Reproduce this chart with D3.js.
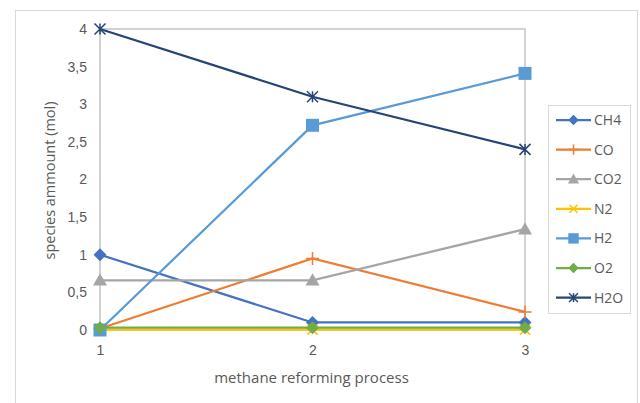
<!DOCTYPE html>
<html>
<head>
<meta charset="utf-8">
<script src="https://cdn.jsdelivr.net/npm/d3@7"></script>
<style>
  html, body { margin: 0; padding: 0; background: #fff; }
  svg { display: block; font-family: "Open Sans", "Liberation Sans", sans-serif; }
</style>
</head>
<body>
<svg id="chart" width="640" height="403"></svg>
<script>
// Process steps along the x axis
const steps = [1, 2, 3];

// Species amounts (mol) at each step
const CH4 = [1.0, 0.1, 0.1];
const CO  = [0.02, 0.95, 0.24];
const CO2 = [0.66, 0.66, 1.34];
const N2  = [0.005, 0.005, 0.005];
const H2  = [0.0, 2.72, 3.41];
const O2  = [0.03, 0.03, 0.03];
const H2O = [4.0, 3.1, 2.4];

const seriesNames = ["CH4", "CO", "CO2", "N2", "H2", "O2", "H2O"];
const yTicks = [0, 0.5, 1, 1.5, 2, 2.5, 3, 3.5, 4];

const seriesValues = { CH4, CO, CO2, N2, H2, O2, H2O };
const colors = {
  CH4: "#4472C4", CO: "#ED7D31", CO2: "#A5A5A5", N2: "#FFC000",
  H2: "#5B9BD5", O2: "#70AD47", H2O: "#264478"
};
const markers = {
  CH4: "diamond", CO: "plus", CO2: "triangle", N2: "x",
  H2: "square", O2: "diamond", H2O: "star"
};

const svg = d3.select("#chart");
const plot = { left: 100, right: 525, top: 29, bottom: 330 };

const x = d3.scaleLinear().domain([1, 3]).range([plot.left, plot.right]);
const y = d3.scaleLinear().domain([0, 4]).range([plot.bottom, plot.top]);

// Chart area border
svg.append("rect")
  .attr("x", 15.5).attr("y", 10.5).attr("width", 622).attr("height", 400)
  .attr("fill", "#fff").attr("stroke", "#d9d9d9").attr("stroke-width", 1);

// Plot area frame
svg.append("rect")
  .attr("x", plot.left).attr("y", plot.top)
  .attr("width", plot.right - plot.left).attr("height", plot.bottom - plot.top)
  .attr("fill", "none").attr("stroke", "#c4c4c4").attr("stroke-width", 1.5);

const fmt = d => String(d).replace(".", ",");

// Y axis
const yAxis = svg.append("g")
  .attr("transform", `translate(${plot.left},0)`)
  .call(d3.axisLeft(y).tickValues(yTicks).tickFormat(fmt).tickSize(0).tickPadding(13));
yAxis.select(".domain").remove();
yAxis.selectAll("text").attr("fill", "#595959").style("font-size", "14px");

// X axis
const xAxis = svg.append("g")
  .attr("transform", `translate(0,${plot.bottom})`)
  .call(d3.axisBottom(x).tickValues(steps).tickFormat(d3.format("d")).tickSize(0).tickPadding(15));
xAxis.select(".domain").remove();
xAxis.selectAll("text").attr("fill", "#595959").style("font-size", "14px");

// Axis titles
svg.append("text")
  .attr("transform", `translate(55,${(plot.top + plot.bottom) / 2 + 1}) rotate(-90)`)
  .attr("text-anchor", "middle").attr("fill", "#595959").style("font-size", "14.5px")
  .text("species ammount (mol)");
svg.append("text")
  .attr("x", (plot.left + plot.right) / 2 - 1).attr("y", 383)
  .attr("text-anchor", "middle").attr("fill", "#595959").style("font-size", "15px")
  .text("methane reforming process");

// Marker shapes
function drawMarker(g, type, cx, cy, color, scale) {
  const s = scale || 1;
  if (type === "diamond") {
    const r = 6.5 * s;
    g.append("path").attr("d", `M${cx},${cy - r}L${cx + r},${cy}L${cx},${cy + r}L${cx - r},${cy}Z`).attr("fill", color);
  } else if (type === "square") {
    const r = 6.5 * s;
    g.append("rect").attr("x", cx - r).attr("y", cy - r).attr("width", 2 * r).attr("height", 2 * r).attr("fill", color);
  } else if (type === "triangle") {
    const r = 7 * s;
    g.append("path").attr("d", `M${cx},${cy - r}L${cx + r},${cy + r * 0.75}L${cx - r},${cy + r * 0.75}Z`).attr("fill", color);
  } else if (type === "plus") {
    const r = 6.5 * s;
    g.append("path").attr("d", `M${cx - r},${cy}L${cx + r},${cy}M${cx},${cy - r}L${cx},${cy + r}`)
      .attr("stroke", color).attr("stroke-width", 1.5);
  } else if (type === "x") {
    const r = 5 * s;
    g.append("path").attr("d", `M${cx - r},${cy - r}L${cx + r},${cy + r}M${cx - r},${cy + r}L${cx + r},${cy - r}`)
      .attr("stroke", color).attr("stroke-width", 1.5);
  } else if (type === "star") {
    const r = 5.5 * s;
    g.append("path").attr("d",
      `M${cx - r},${cy - r}L${cx + r},${cy + r}M${cx - r},${cy + r}L${cx + r},${cy - r}M${cx},${cy - r}L${cx},${cy + r}`)
      .attr("stroke", color).attr("stroke-width", 1.5);
  }
}

const line = d3.line().x((d, i) => x(steps[i])).y(d => y(d));

// Series lines and markers
seriesNames.forEach(name => {
  const vals = seriesValues[name];
  const g = svg.append("g");
  g.append("path").datum(vals).attr("d", line)
    .attr("fill", "none").attr("stroke", colors[name]).attr("stroke-width", 2.25);
  vals.forEach((v, i) => drawMarker(g, markers[name], x(steps[i]), y(v), colors[name]));
});

// Legend
const legend = svg.append("g");
legend.append("rect")
  .attr("x", 548.5).attr("y", 105.5).attr("width", 82).attr("height", 208)
  .attr("fill", "#fff").attr("stroke", "#d9d9d9");
seriesNames.forEach((name, i) => {
  const ly = 120 + i * 29.6;
  const g = legend.append("g");
  g.append("line").attr("x1", 556).attr("x2", 591).attr("y1", ly).attr("y2", ly)
    .attr("stroke", colors[name]).attr("stroke-width", 2.25);
  drawMarker(g, markers[name], 573.5, ly, colors[name], 0.8);
  g.append("text").attr("x", 594).attr("y", ly).attr("dy", "0.35em")
    .attr("fill", "#595959").style("font-size", "14px").text(name);
});
</script>
</body>
</html>
